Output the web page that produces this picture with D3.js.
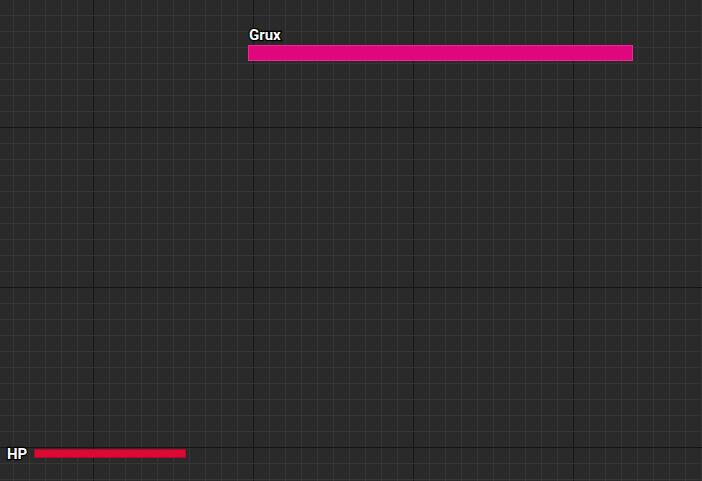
<!DOCTYPE html>
<html><head><meta charset="utf-8">
<script src="https://cdn.jsdelivr.net/npm/d3@7"></script>
<style>body{margin:0;background:#2a2a2a;overflow:hidden}</style></head>
<body><svg id="c" width="702" height="481"></svg>
<script>
const bars = ["Grux", "HP"];
const current = [100, 100];
const maximum = [100, 100];
const colors = ["#e0077d", "#dc0a33"];
const strokes = ["#ea2a8e", "#b0082a"];

const W = 702, H = 481;
const svg = d3.select("#c");
svg.append("rect").attr("width", W).attr("height", H).attr("fill", "#2a2a2a");
const g = svg.append("g");
for (let x = 93 % 16 - 16; x < W; x += 16) {
  const major = ((x - 93) % 160 + 160) % 160 === 0;
  g.append("line").attr("x1", x + .5).attr("x2", x + .5).attr("y1", 0).attr("y2", H)
    .attr("stroke", major ? "#151515" : "#363636").attr("stroke-width", 1);
}
for (let y = 127 % 16 - 16; y < H; y += 16) {
  const major = ((y - 127) % 160 + 160) % 160 === 0;
  g.append("line").attr("y1", y + .5).attr("y2", y + .5).attr("x1", 0).attr("x2", W)
    .attr("stroke", major ? "#151515" : "#363636").attr("stroke-width", 1);
}
const layout = [{x0: 248, x1: 633, y: 45, h: 16}, {x0: 34, x1: 186, y: 449, h: 9}];
bars.forEach((name, i) => {
  const L = layout[i];
  const sx = d3.scaleLinear().domain([0, maximum[i]]).range([L.x0, L.x1]);
  svg.append("rect").attr("x", sx(0) + .5).attr("y", L.y + .5)
    .attr("width", sx(current[i]) - sx(0) - 1).attr("height", L.h - 1)
    .attr("fill", colors[i]).attr("stroke", strokes[i]).attr("stroke-width", 1);
  const t = svg.append("text").text(name)
    .attr("font-family", "Roboto, 'DejaVu Sans', sans-serif").attr("font-weight", "bold")
    .attr("font-size", 15).attr("fill", "#fff")
    .attr("stroke", "#000").attr("stroke-width", 2.5).attr("paint-order", "stroke");
  if (i === 0) t.attr("x", L.x0 + 1).attr("y", L.y - 5);
  else t.attr("x", 7).attr("y", L.y + 10);
});
</script></body></html>
